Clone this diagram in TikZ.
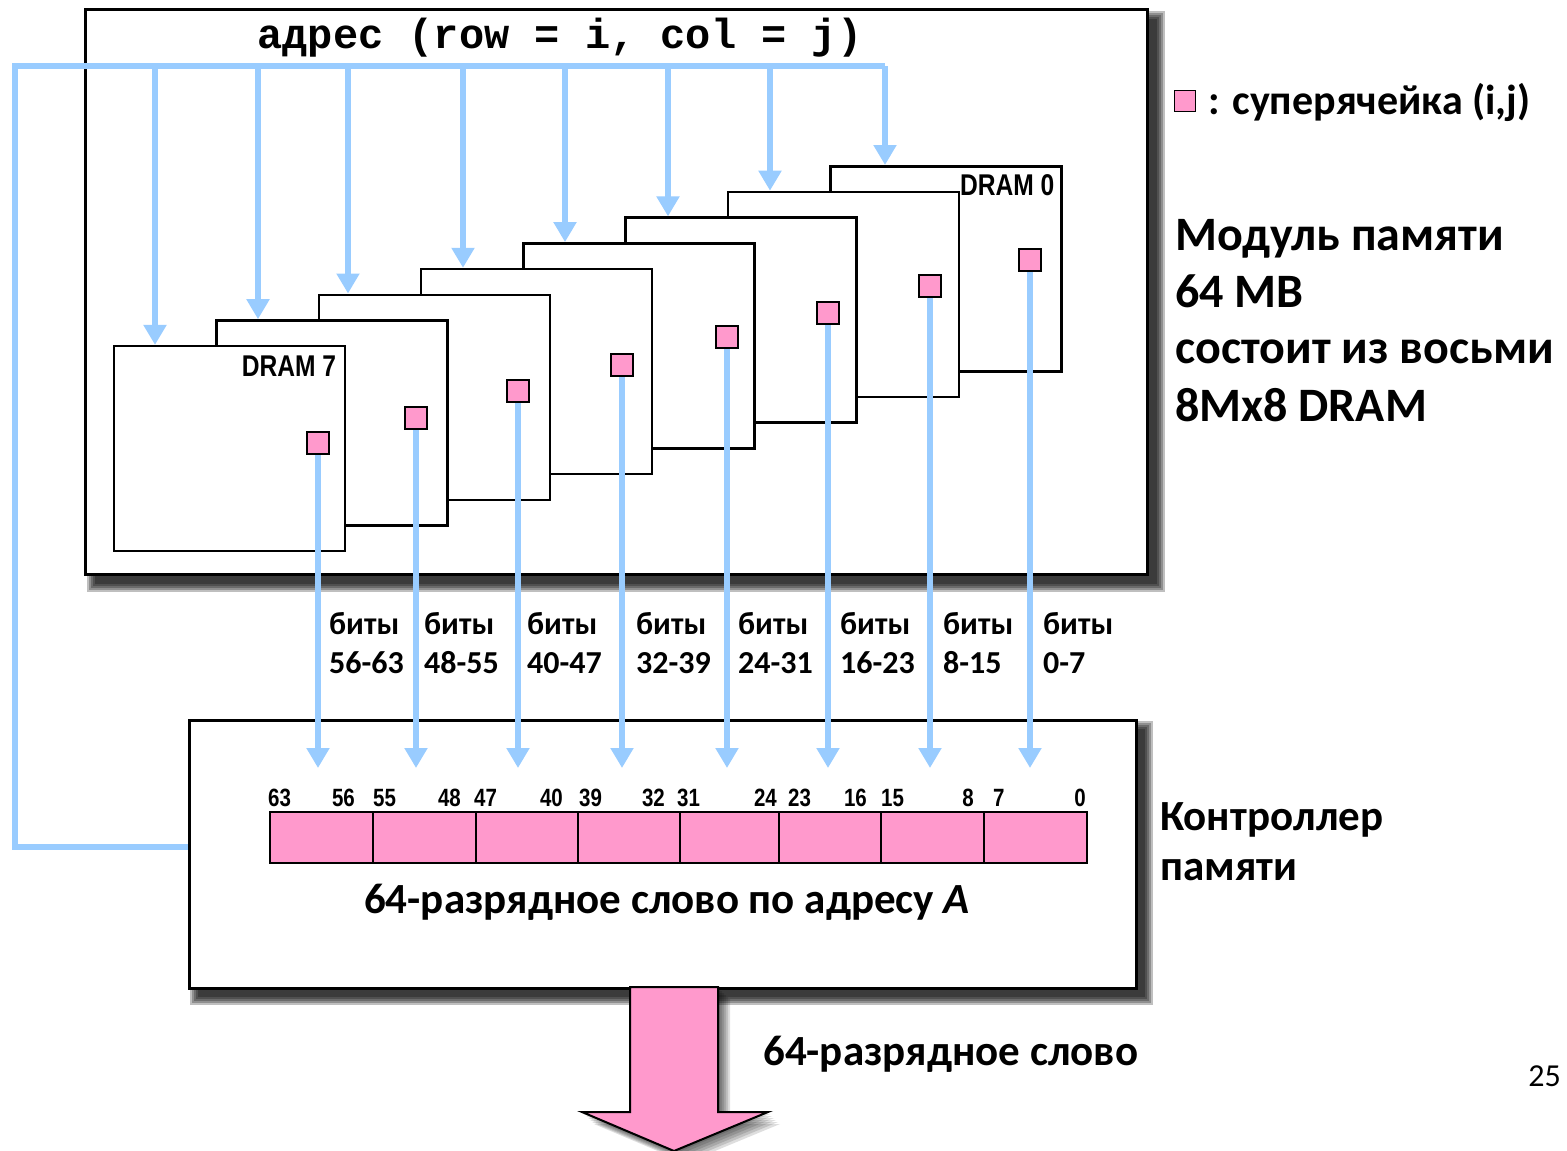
\documentclass[tikz,border=0pt]{standalone}
\usepackage{fontspec}
\setmainfont{Carlito}
\newfontfamily\monofnt{Liberation Mono}
\newfontfamily\narrowfnt[FakeStretch=0.82]{Liberation Sans}
\usetikzlibrary{arrows.meta,calc}
\definecolor{busblue}{HTML}{99CCFF}
\definecolor{cellpink}{HTML}{FF99CC}
\newcommand\boxshadow[4]{%
  \foreach \r in {0,2,...,8}{%
    \fill[black,opacity=0.25] ({#1+10-\r},{#2+10-\r}) rectangle ({#3+10+\r},{#4+10+\r});}}
\begin{document}
\begin{tikzpicture}[x=1pt,y=-1pt,
  bigbox/.style={draw=black,line width=3pt,fill=white},
  drambox/.style={draw=black,line width=2.5pt,fill=white,minimum width=231pt,minimum height=205pt,anchor=north west,inner sep=0pt},
  supercell/.style={draw=black,line width=2pt,fill=cellpink,minimum size=22pt,inner sep=0pt},
  regcell/.style={draw=black,line width=2.5pt,fill=cellpink,minimum height=51pt,inner sep=0pt},
  busline/.style={draw=busblue,line width=6pt},
  busarrow/.style={draw=busblue,line width=6pt,-{Triangle[width=22pt,length=20pt]}},
  lbl/.style={inner sep=0pt,font=\bfseries\fontsize{32}{32}\selectfont},
  bitnum/.style={inner sep=0pt,font=\narrowfnt\bfseries\fontsize{25}{25}\selectfont},
  dramlbl/.style={inner sep=0pt,anchor=base east,font=\narrowfnt\bfseries\fontsize{30}{30}\selectfont},
  side/.style={inner sep=0pt,anchor=base west,font=\bfseries\fontsize{48}{48}\selectfont},
  ctrllbl/.style={inner sep=0pt,anchor=base west,font=\bfseries\fontsize{43}{43}\selectfont},
  wordlbl/.style={inner sep=0pt,font=\bfseries\fontsize{43}{43}\selectfont}
]
\useasboundingbox (0,0) rectangle (1567,1151);
\fill[white] (0,0) rectangle (1567,1151);

% ---- top module box
\boxshadow{85}{9}{1147}{574}
\path[bigbox] (85,9) rectangle (1147,574);
\node (title) [inner sep=0pt,anchor=base,font=\monofnt\bfseries\fontsize{42}{42}\selectfont] at (560,48) {адрес (row = i, col = j)};

% ---- DRAM chips, back to front
\foreach \k in {0,...,7}{
  \node (d\k) [drambox] at ({829-102.3*\k},{165+25.7*\k}) {};
}
\node (l0) [dramlbl] at ($(d0.north east)+(-8,30)$) {DRAM 0};
\node (l7) [dramlbl] at ($(d7.north east)+(-10,32)$) {DRAM 7};

% ---- super cells
\foreach \k/\cx/\cy in {0/1030/260,1/930/286,2/828/313,3/727/337,4/622/365,5/518/391,6/416/418,7/318/443}{
  \node (c\k) [supercell] at (\cx,\cy) {};
}

% ---- address bus
\foreach \k/\bx in {0/885,1/770,2/668,3/565,4/463,5/348,6/258,7/155}{
  \coordinate (b\k) at (\bx,66);
}
\coordinate (busL) at (15,66);
\coordinate (busLL) at (15,847);

% ---- controller
\boxshadow{188}{719}{1135}{987}
\node (ctrl) [bigbox,minimum width=947pt,minimum height=268pt,anchor=north west,inner sep=0pt] at (188,719) {};

\draw[busline,line join=miter] (b0) -- (busL) -- (busLL) -- (busLL -| ctrl.west);
\foreach \k in {0,...,7}{
  \draw[busarrow] (b\k) -- (b\k |- d\k.north);
}

% ---- register
\foreach \i/\xa/\xb in {7/270/373,6/373/476,5/476/578,4/578/680,3/680/779,2/779/881,1/881/984,0/984/1087}{
  \node (r\i) [regcell,minimum width={\xb-\xa}] at ({(\xa+\xb)/2},837.5) {};
}

% ---- data arrows and labels
\foreach \k/\lx/\bits in {0/1043/0-7,1/943/8-15,2/840/16-23,3/738/24-31,4/636/32-39,5/527/40-47,6/424/48-55,7/329/56-63}{
  \draw[busarrow] (c\k.south) -- (c\k.south |- 0,768);
  \node (bt\k) [lbl,anchor=base west] at (\lx,634) {биты};
  \node (bn\k) [lbl,anchor=base west] at (\lx,673) {\bits};
}

% ---- bit numbers
\foreach \t/\x in {63/268,55/373,47/474,39/579,31/677,23/788,15/881,7/993}{
  \node [bitnum,anchor=base west] at (\x,806) {\t};
}
\foreach \t/\x in {56/355,48/461,40/563,32/665,24/777,16/867,8/974,0/1086}{
  \node [bitnum,anchor=base east] at (\x,806) {\t};
}

\node (wordA) [wordlbl,anchor=base] at (667,913) {64-разрядное слово по адресу \textit{A}};

% ---- output arrow
\foreach \s in {2,4,...,12}{
  \fill[black,opacity=0.13,shift={(\s,\s)}] (630,987) -- (718,987) -- (718,1112) -- (768,1112) -- (674,1151) -- (582,1112) -- (630,1112) -- cycle;
}
\draw[black,line width=2pt,fill=cellpink,line join=miter] (630,987) -- (718,987) -- (718,1112) -- (768,1112) -- (674,1151) -- (582,1112) -- (630,1112) -- cycle;
\node (outlbl) [wordlbl,anchor=base west] at (763,1065) {64-разрядное слово};

% ---- side texts
\node (leg) [supercell,minimum size=21pt,line width=1.8pt] at (1185,101) {};
\node (legt) [inner sep=0pt,anchor=base west,font=\bfseries\fontsize{42}{42}\selectfont] at (1208,114) {: суперячейка (i,j)};
\node (m1) [side] at (1175,250) {Модуль памяти};
\node (m2) [side] at (1175,307) {64 MB};
\node (m3) [side] at (1175,363) {состоит из восьми};
\node (m4) [side] at (1175,421) {8Mx8 DRAM};
\node (k1) [ctrllbl] at (1160,830) {Контроллер};
\node (k2) [ctrllbl] at (1160,880) {памяти};
\node (pg) [inner sep=0pt,anchor=base east,font=\fontsize{32}{32}\selectfont] at (1561,1086) {25};
\end{tikzpicture}
\end{document}
